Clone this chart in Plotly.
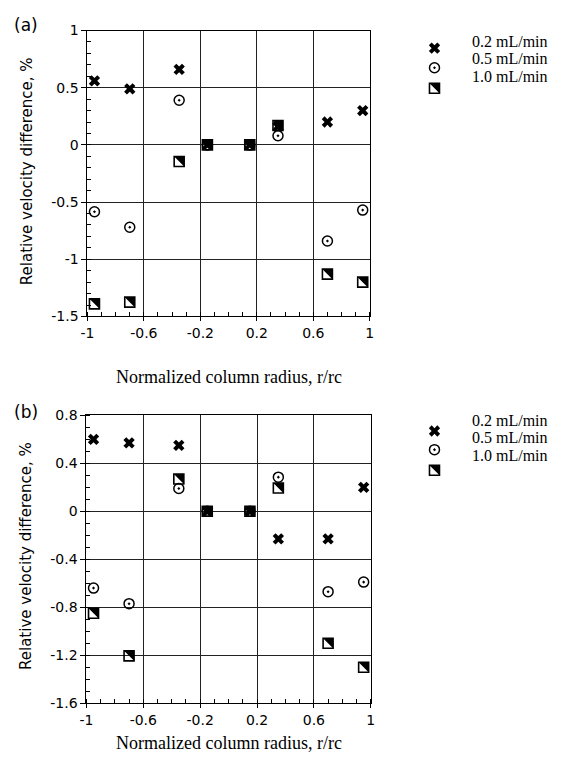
import plotly.graph_objects as go

W, H = 563, 770

# Normalized column radius positions of the measurement points
r_pos = [-0.95, -0.70, -0.35, -0.15, 0.15, 0.35, 0.70, 0.95]

# Panel (a): relative velocity difference, %
a_02 = [0.56, 0.49, 0.66, 0.0, 0.0, 0.16, 0.20, 0.30]
a_05 = [-0.585, -0.72, 0.39, 0.0, 0.0, 0.08, -0.84, -0.57]
a_10 = [-1.39, -1.375, -0.145, 0.0, 0.0, 0.17, -1.13, -1.20]

# Panel (b): relative velocity difference, %
b_02 = [0.60, 0.57, 0.55, 0.0, 0.0, -0.23, -0.23, 0.20]
b_05 = [-0.64, -0.77, 0.19, 0.0, 0.0, 0.285, -0.67, -0.59]
b_10 = [-0.85, -1.205, 0.27, 0.0, 0.0, 0.195, -1.10, -1.30]

series_names = ["0.2 mL/min", "0.5 mL/min", "1.0 mL/min"]

x_tickvals = [-1, -0.6, -0.2, 0.2, 0.6, 1]
x_ticktext = ["-1", "-0.6", "-0.2", "0.2", "0.6", "1"]
ya_tickvals = [-1.5, -1, -0.5, 0, 0.5, 1]
ya_ticktext = ["-1.5", "-1", "-0.5", "0", "0.5", "1"]
yb_tickvals = [-1.6, -1.2, -0.8, -0.4, 0, 0.4, 0.8]
yb_ticktext = ["-1.6", "-1.2", "-0.8", "-0.4", "0", "0.4", "0.8"]

SANS = "DejaVu Sans"
SERIF = "Liberation Serif"
HALF = 5  # half width of the square marker, px

x_style = dict(symbol="x", size=10, color="black", line=dict(width=0))
o_style = dict(symbol="circle-open-dot", size=10, color="black", line=dict(width=1.5, color="black"))
s_style = dict(symbol="square-open", size=10, color="black", line=dict(width=1.6, color="black"))

fig = go.Figure()
shapes = []


def tri_shape(xv, yv, xref, yref):
    # black upper-right half of a square marker
    return dict(type="path", xref=xref, yref=yref, xsizemode="pixel", ysizemode="pixel",
                xanchor=xv, yanchor=yv,
                path=f"M{-HALF},{HALF} L{HALF},{HALF} L{HALF},{-HALF} Z",
                fillcolor="black", line=dict(width=0), layer="above")


def add_panel(v02, v05, v10, xa, ya):
    fig.add_trace(go.Scatter(x=r_pos, y=v02, mode="markers", marker=x_style,
                             xaxis=xa, yaxis=ya, showlegend=False, name=series_names[0]))
    fig.add_trace(go.Scatter(x=r_pos, y=v05, mode="markers", marker=o_style,
                             xaxis=xa, yaxis=ya, showlegend=False, name=series_names[1]))
    fig.add_trace(go.Scatter(x=r_pos, y=v10, mode="markers", marker=s_style,
                             xaxis=xa, yaxis=ya, showlegend=False, name=series_names[2]))
    for xv, yv in zip(r_pos, v10):
        shapes.append(tri_shape(xv, yv, xa, ya))


add_panel(a_02, a_05, a_10, "x", "y")
add_panel(b_02, b_05, b_10, "x2", "y2")

# legend keys drawn on a pixel-scaled helper axis at the right
leg_key_x = [436, 436, 436]
leg_key_y_a = [41, 61, 82]
leg_key_y_b = [432, 451, 472]
leg_text_x = 472
leg_text_y_a = [34, 52, 70]
leg_text_y_b = [421, 439, 457]

for ky in (leg_key_y_a, leg_key_y_b):
    fig.add_trace(go.Scatter(x=[leg_key_x[0]], y=[ky[0]], mode="markers", marker=x_style,
                             xaxis="x3", yaxis="y3", showlegend=False))
    fig.add_trace(go.Scatter(x=[leg_key_x[1]], y=[ky[1]], mode="markers", marker=o_style,
                             xaxis="x3", yaxis="y3", showlegend=False))
    fig.add_trace(go.Scatter(x=[leg_key_x[2]], y=[ky[2]], mode="markers", marker=s_style,
                             xaxis="x3", yaxis="y3", showlegend=False))
    shapes.append(tri_shape(leg_key_x[2], ky[2], "x3", "y3"))


def px_x(p):
    return p / W


def px_y(p):
    return 1 - p / H


annotations = []
for ty in (leg_text_y_a, leg_text_y_b):
    for name, y in zip(series_names, ty):
        annotations.append(dict(text=name, x=px_x(leg_text_x), y=px_y(y), xref="paper", yref="paper",
                                xanchor="left", yanchor="middle", showarrow=False,
                                font=dict(family=SERIF, size=16, color="black")))

for lab, y in (("(a)", 17), ("(b)", 413)):
    annotations.append(dict(text=lab, x=px_x(19), y=px_y(y), xref="paper", yref="paper",
                            xanchor="center", yanchor="middle", showarrow=False,
                            font=dict(family=SANS, size=17, color="black")))

for y in (377, 751):
    annotations.append(dict(text="Normalized column radius, r/rc", x=px_x(226), y=px_y(y),
                            xref="paper", yref="paper", xanchor="center", yanchor="middle",
                            showarrow=False, font=dict(family=SERIF, size=18, color="black")))

for y in (167, 560):
    annotations.append(dict(text="Relative velocity difference, %", x=px_x(20), y=px_y(y),
                            xref="paper", yref="paper", xanchor="center", yanchor="middle",
                            textangle=-90, showarrow=False,
                            font=dict(family=SANS, size=15, color="black")))

GRID = "#222222"
minor_common = dict(ticks="inside", ticklen=4, tickcolor="black", tickwidth=1, showgrid=False)


def xaxis_style(domain, anchor):
    return dict(domain=domain, anchor=anchor, range=[-1, 1], tickmode="array",
                tickvals=x_tickvals, ticktext=x_ticktext, ticks="outside", ticklen=4,
                tickcolor="black", showline=True, linecolor="black", linewidth=1, mirror=True,
                showgrid=True, gridcolor=GRID, gridwidth=1, zeroline=False,
                tickfont=dict(family=SANS, size=14, color="black"),
                minor=dict(tick0=-1, dtick=0.1, **minor_common))


def yaxis_style(domain, anchor, rng, tv, tt):
    return dict(domain=domain, anchor=anchor, range=rng, tickmode="array",
                tickvals=tv, ticktext=tt, ticks="outside", ticklen=5,
                tickcolor="black", showline=True, linecolor="black", linewidth=1, mirror=True,
                showgrid=True, gridcolor=GRID, gridwidth=1, zeroline=False,
                tickfont=dict(family=SANS, size=14, color="black"),
                minor=dict(tick0=0, dtick=0.1, **minor_common))


fig.update_layout(
    width=W, height=H, autosize=False,
    margin=dict(l=0, r=0, t=0, b=0),
    paper_bgcolor="white", plot_bgcolor="white",
    showlegend=False,
    xaxis=xaxis_style([82 / W, 370 / W], "y"),
    yaxis=yaxis_style([1 - 315 / H, 1 - 23 / H], "x", [-1.5, 1], ya_tickvals, ya_ticktext),
    xaxis2=xaxis_style([81 / W, 371 / W], "y2"),
    yaxis2=yaxis_style([1 - 710 / H, 1 - 416 / H], "x2", [-1.6, 0.8], yb_tickvals, yb_ticktext),
    xaxis3=dict(domain=[400 / W, 1], anchor="y3", range=[400, W], visible=False, fixedrange=True),
    yaxis3=dict(domain=[0, 1], anchor="x3", range=[H, 0], visible=False, fixedrange=True),
    shapes=shapes,
    annotations=annotations,
)

fig.write_html("out.html")
